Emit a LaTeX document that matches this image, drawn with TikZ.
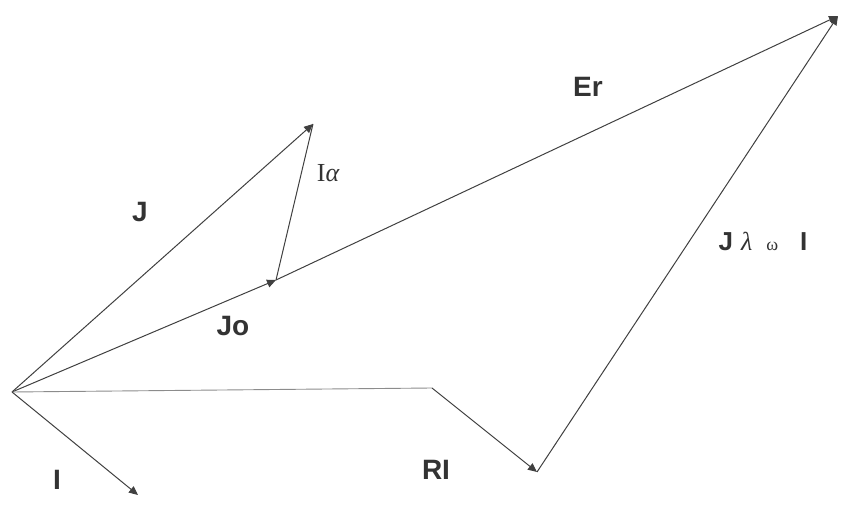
\documentclass[tikz,border=0pt]{standalone}
\usepackage{fontspec}
\setmainfont{Liberation Sans}
\newfontfamily\serifgr{Liberation Serif}
\usetikzlibrary{arrows.meta}
\begin{document}
\begin{tikzpicture}[x=1pt,y=-1pt,
  vec/.style={draw=black!75, line width=1pt, -{Triangle[length=9pt,width=8pt]}},
  seg/.style={draw=black!75, line width=1pt},
  faint/.style={draw=black!45, line width=0.9pt},
  lbl/.style={font=\fontsize{28}{30}\selectfont\bfseries, text=black!80, inner sep=0pt}]
\useasboundingbox (0,0) rectangle (843,505);
\coordinate (O) at (12,392);
\coordinate (J) at (313,124);
\coordinate (Jo) at (276,280);
\coordinate (Er) at (838,16);
\coordinate (K) at (432,388);
\coordinate (R) at (537,472);
\coordinate (I) at (138,495);
% vectors
\draw[vec] (O) -- (J);
\draw[vec] (O) -- (Jo);
\draw[seg] (Jo) -- (J);
\draw[vec] (Jo) -- (Er);
\draw[faint] (O) -- (K);
\draw[vec] (K) -- (R);
\draw[vec] (R) -- (Er);
\draw[vec] (O) -- (I);
% labels
\node[lbl] (lJ) at (140,212) {J};
\node[lbl] (lJo) at (233,326) {Jo};
\node[lbl, font=\fontsize{26}{28}\selectfont] (lIa) at (328,173) {\serifgr I\itshape α};
\node[lbl] (lEr) at (588,87) {Er};
\node[lbl, font=\fontsize{26}{28}\selectfont\bfseries] (lJl) at (763,241) {J\hspace{8pt}{\serifgr\mdseries\itshape λ}\hspace{14pt}{\serifgr\mdseries\fontsize{18}{20}\selectfont ω}\hspace{22pt}I};
\node[lbl] (lRI) at (436,470) {RI};
\node[lbl] (lI) at (57,480) {I};
\end{tikzpicture}
\end{document}
